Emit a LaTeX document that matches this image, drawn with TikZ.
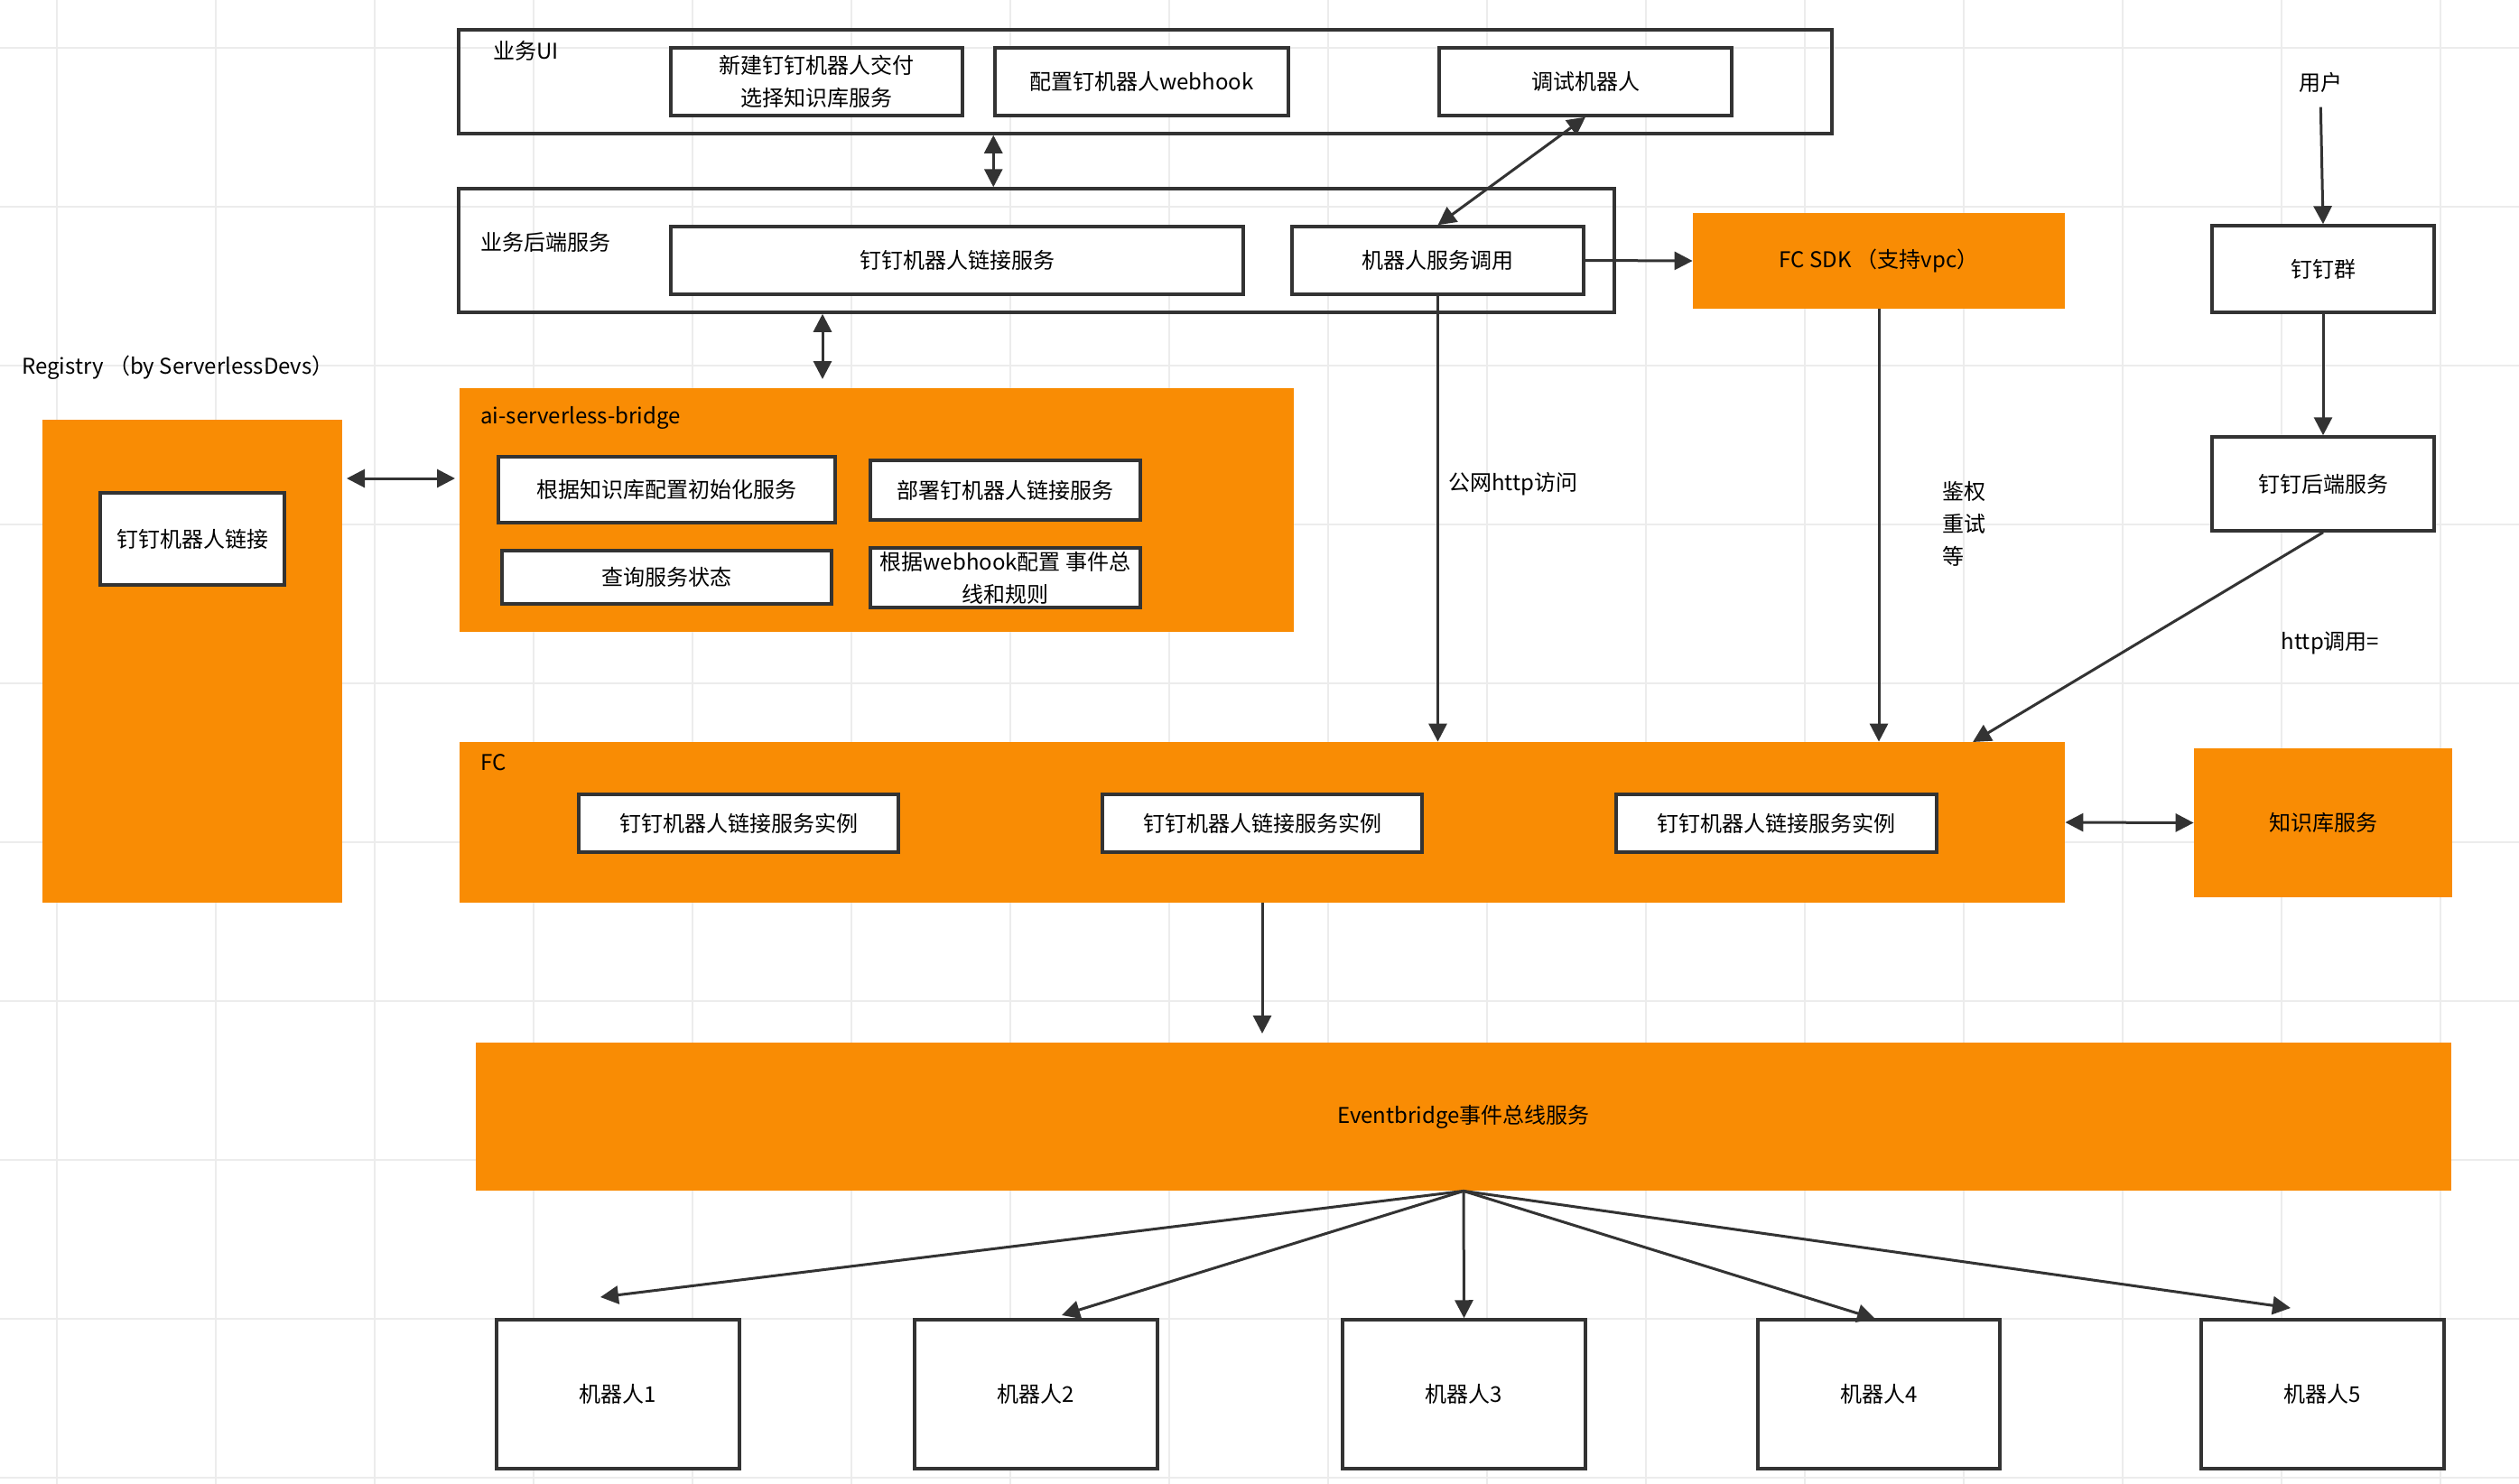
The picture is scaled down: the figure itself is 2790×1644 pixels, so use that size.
\documentclass[tikz,border=0pt]{standalone}
\usepackage{fontspec}
\setmainfont{Noto Sans CJK SC}
\usetikzlibrary{arrows.meta}
\definecolor{org}{RGB}{249,140,4}
\definecolor{ln}{RGB}{51,51,51}
\definecolor{gridc}{RGB}{236,236,236}
\begin{document}
\begin{tikzpicture}[x=0.5pt,y=-0.5pt,
  every node/.style={font=\fontsize{12pt}{18pt}\selectfont, text=black},
  place/.style n args={4}{minimum width={(#3-#1)*0.5pt}, minimum height={(#4-#2)*0.5pt}, at={({(#1+#3)/2},{(#2+#4)/2})}},
  frame/.style={draw=ln, line width=1.75pt, inner sep=0pt},
  wbox/.style={draw=ln, line width=1.75pt, fill=white, inner sep=0pt, align=center},
  obox/.style={fill=org, inner sep=0pt, align=center},
  lbl/.style={anchor=west, inner sep=0pt},
  arr/.style={draw=ln, line width=1.5pt, -{Triangle[length=10pt,width=10pt]}},
  darr/.style={draw=ln, line width=1.5pt, {Triangle[length=10pt,width=10pt]}-{Triangle[length=10pt,width=10pt]}},
]
\useasboundingbox (0,0) rectangle (2790,1644);
\fill[white] (0,0) rectangle (2790,1644);
% grid
\foreach \gx in {63,239,...,2790} \draw[gridc, line width=0.75pt] (\gx,0) -- (\gx,1644);
\foreach \gy in {53,229,...,1644} \draw[gridc, line width=0.75pt] (0,\gy) -- (2790,\gy);

% containers
\node[frame, place={508}{33}{2029}{148}] (ui) {};
\node[lbl] (tui) at (546,56) {业务UI};
\node[frame, place={508}{209}{1788}{346}] (be) {};
\node[lbl] (tbe) at (532,268) {业务后端服务};
\node[obox, place={509}{430}{1433}{700}] (bridge) {};
\node[lbl] (tbridge) at (532,463) {ai-serverless-bridge};
\node[obox, place={47}{465}{379}{1000}] (reg) {};
\node[lbl] (treg) at (24,407) {Registry （by ServerlessDevs）};
\node[obox, place={509}{822}{2287}{1000}] (fc) {};
\node[lbl] (tfc) at (532,845) {FC};
\node[obox, place={2430}{829}{2716}{994}] (kb) {知识库服务};
\node[obox, place={1875}{236}{2287}{342}] (sdk) {FC SDK （支持vpc）};
\node[obox, place={527}{1155}{2715}{1319}] (eb) {Eventbridge事件总线服务};

% white boxes
\node[wbox, place={743}{53}{1066}{128}] (ui1) {新建钉钉机器人交付\\选择知识库服务};
\node[wbox, place={1102}{53}{1427}{128}] (ui2) {配置钉机器人webhook};
\node[wbox, place={1594}{53}{1918}{128}] (ui3) {调试机器人};
\node[wbox, place={743}{251}{1377}{326}] (be1) {钉钉机器人链接服务};
\node[wbox, place={1431}{251}{1754}{326}] (be2) {机器人服务调用};
\node[wbox, place={552}{506}{925}{579}] (br1) {根据知识库配置初始化服务};
\node[wbox, place={964}{510}{1263}{576}] (br2) {部署钉机器人链接服务};
\node[wbox, place={556}{610}{921}{669}] (br3) {查询服务状态};
\node[wbox, place={964}{607}{1263}{673}] (br4) {根据webhook配置 事件总\\线和规则};
\node[wbox, place={111}{546}{315}{648}] (reg1) {钉钉机器人链接};
\node[wbox, place={641}{880}{995}{944}] (fc1) {钉钉机器人链接服务实例};
\node[wbox, place={1221}{880}{1575}{944}] (fc2) {钉钉机器人链接服务实例};
\node[wbox, place={1790}{880}{2145}{944}] (fc3) {钉钉机器人链接服务实例};
\node[wbox, place={2450}{250}{2696}{346}] (dg) {钉钉群};
\node[wbox, place={2450}{484}{2696}{588}] (dgb) {钉钉后端服务};
\node[wbox, place={550}{1462}{819}{1627}] (r1) {机器人1};
\node[wbox, place={1013}{1462}{1282}{1627}] (r2) {机器人2};
\node[wbox, place={1487}{1462}{1756}{1627}] (r3) {机器人3};
\node[wbox, place={1947}{1462}{2215}{1627}] (r4) {机器人4};
\node[wbox, place={2438}{1462}{2707}{1627}] (r5) {机器人5};

% free labels
\node[inner sep=0pt] (user) at (2570,91) {用户};
\node[lbl] (tpub) at (1604,536) {公网http访问};
\node[lbl, align=left] (tauth) at (2151,580) {鉴权\\重试\\等};
\node[inner sep=0pt] (thttp) at (2581,712) {http调用=};

% connectors
\draw[darr] (ui2.south west |- ui.south) -- (ui2.south west |- be.north);
\draw[darr] (ui3.south) -- (be2.north);
\draw[arr] (be2.east) -- (sdk.west);
\coordinate (bbbot) at (911,420);
\draw[darr] (be.south -| bbbot) -- (bbbot);
\coordinate (regR) at (384,530);
\coordinate (brL) at (504,530);
\draw[darr] (regR) -- (brL);
\draw[arr] (be2.south) -- (be2.south |- fc.north);
\draw[arr] (sdk.south) -- (sdk.south |- fc.north);
\draw[arr, shorten <=8pt] (user.south) -- (dg.north);
\draw[arr] (dg.south) -- (dgb.north);
\coordinate (fchit) at (2185,822);
\draw[arr] (dgb.south) -- (fchit);
\draw[darr] (fc.east) -- (kb.west);
\coordinate (ebin) at (1398,1145);
\draw[arr] (fc.south -| ebin) -- (ebin);
\coordinate (t1) at (665,1437);
\coordinate (t2) at (1176,1457);
\coordinate (t4) at (2077,1461);
\coordinate (t5) at (2537,1449);
\draw[arr] (eb.south) -- (t1);
\draw[arr] (eb.south) -- (t2);
\draw[arr] (eb.south) -- (r3.north);
\draw[arr] (eb.south) -- (t4);
\draw[arr] (eb.south) -- (t5);
\end{tikzpicture}
\end{document}
